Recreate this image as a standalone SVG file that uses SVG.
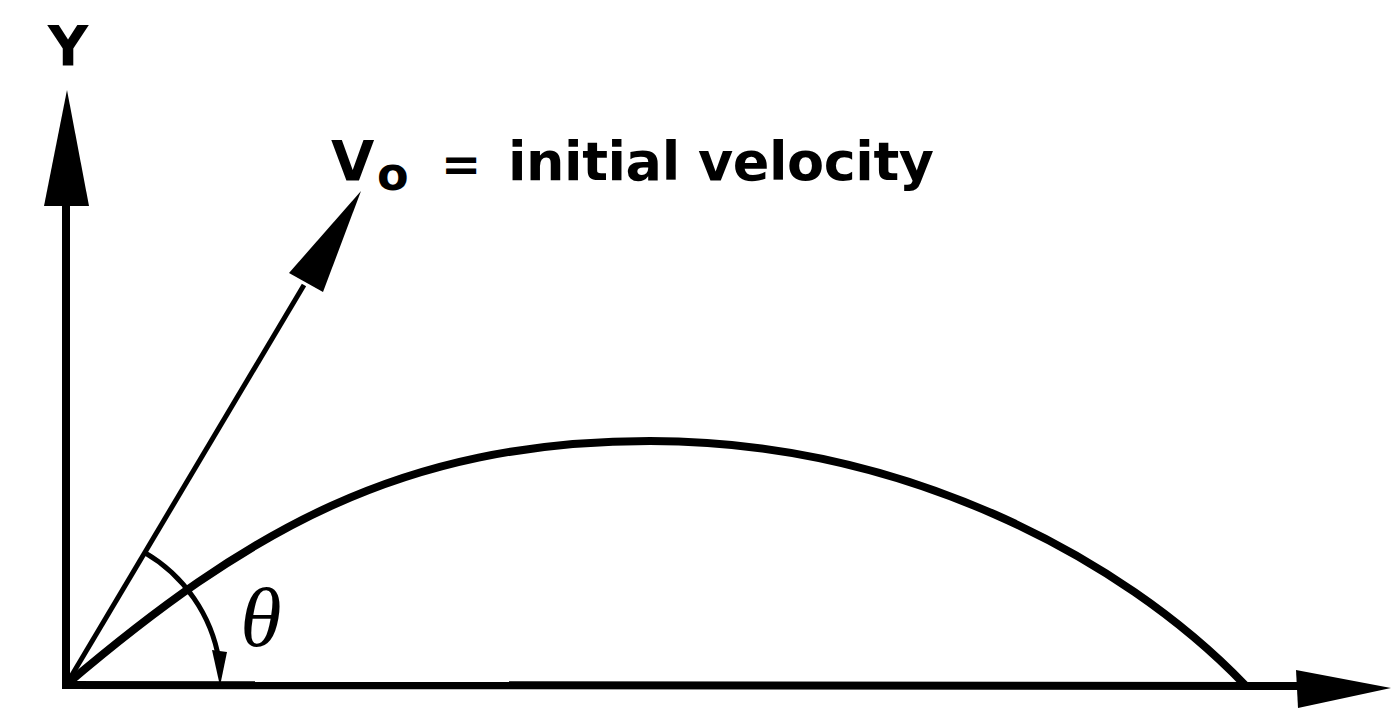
<svg xmlns="http://www.w3.org/2000/svg" width="1394" height="712" viewBox="0 0 1394 712">
<style>
  .ln { fill: none; stroke: #000; stroke-linecap: butt; }
  .head { fill: #000; stroke: none; }
  .lbl { font-family: "DejaVu Sans", "Liberation Sans", sans-serif; font-weight: bold; fill: #000; }
  .greek { font-family: "Liberation Serif", "DejaVu Serif", serif; font-style: italic; fill: #000; }
</style>
<rect width="1394" height="712" fill="#fff"/>
<g id="connectors">
  <g id="y-axis">
    <line class="ln" x1="66" y1="689" x2="66" y2="200" stroke-width="8"/>
    <polygon class="head" points="67,90 89,206 44,206"/>
  </g>
  <g id="x-axis">
    <line class="ln" x1="62" y1="685" x2="1300" y2="686" stroke-width="8"/>
    <polygon class="head" points="1391,688 1296,670 1298,708"/>
  </g>
  <g id="initial-velocity-vector">
    <line class="ln" x1="66" y1="685" x2="304" y2="285" stroke-width="5"/>
    <polygon class="head" points="361,191 289,273 323,292"/>
  </g>
  <g id="trajectory">
    <path class="ln" stroke-width="8" d="M66,685 C246,532 400,441 650,441 C900,441 1120,555 1245,685"/>
  </g>
  <g id="angle-arc">
    <path class="ln" stroke-width="5" d="M144.8,552.7 A154,154 0 0 1 219,660"/>
    <polygon class="head" points="220,686 212,650 227,652"/>
  </g>
</g>
<g id="label-y">
  <text class="lbl" x="68" y="65" font-size="56" text-anchor="middle">Y</text>
</g>
<g id="label-v0">
  <text class="lbl" x="331" y="180" font-size="56">V</text>
  <text class="lbl" x="377" y="190" font-size="46">o</text>
  <text class="lbl" x="441" y="181" font-size="48">=</text>
  <text class="lbl" x="508" y="180" font-size="54" textLength="426" lengthAdjust="spacing">initial velocity</text>
</g>
<g id="label-theta">
  <text class="greek" x="261" y="646" font-size="84" text-anchor="middle">θ</text>
</g>
</svg>
